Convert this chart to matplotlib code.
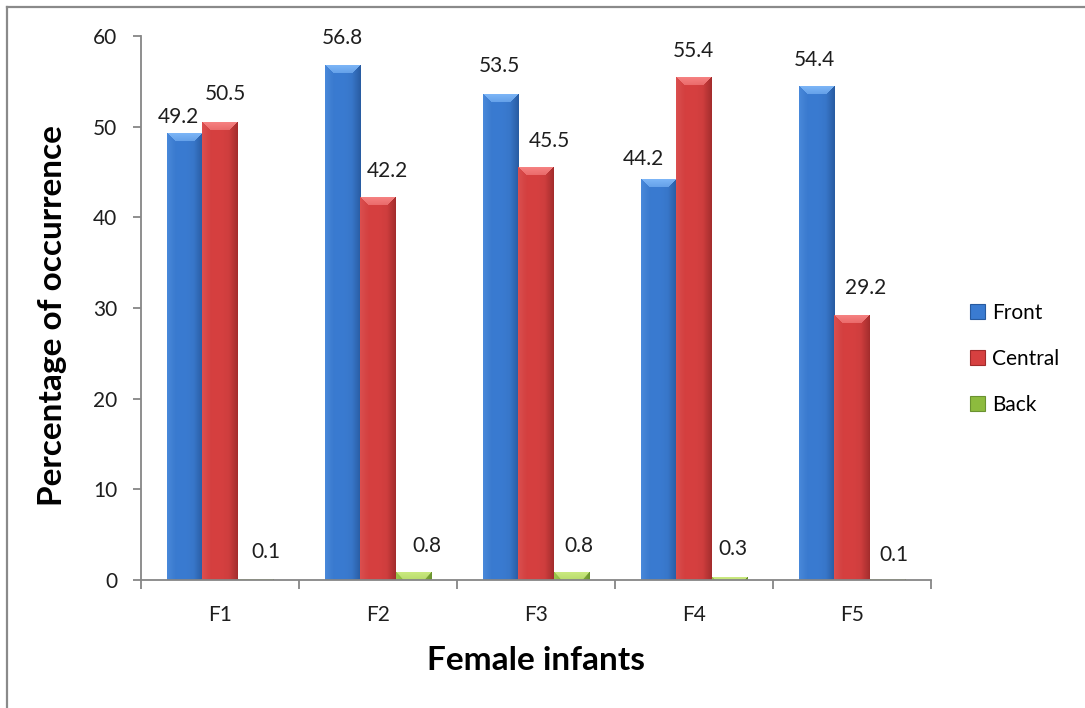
import numpy as np
import matplotlib
matplotlib.use('Agg')
import matplotlib.pyplot as plt
from matplotlib.patches import Patch
from matplotlib.lines import Line2D
from matplotlib.colors import to_rgb

# ---------------- data ----------------
categories = ['F1', 'F2', 'F3', 'F4', 'F5']
front = [49.2, 56.8, 53.5, 44.2, 54.4]
central = [50.5, 42.2, 45.5, 55.4, 29.2]
back = [0.1, 0.8, 0.8, 0.3, 0.1]
series_names = ['Front', 'Central', 'Back']
y_ticks = [0, 10, 20, 30, 40, 50, 60]
x_title = 'Female infants'
y_title = 'Percentage of occurrence'

# ---------------- style ----------------
plt.rcParams['font.family'] = ['Lato', 'DejaVu Sans']
W, H = 1085, 708
fig = plt.figure(figsize=(W / 100, H / 100), dpi=100)
ax = fig.add_axes([141 / W, 1 - 580 / H, 790 / W, 544 / H])

palettes = [
    # base, top facet, left facet, right facet
    ('#3A7BD1', '#7DB6F7', '#4A8ADC', '#275A9F'),
    ('#D64040', '#F68282', '#DC5050', '#A02B2B'),
    ('#8DBB3E', '#CBEA80', '#9CC84E', '#6A9230'),
]
# label offsets in pixels (dx, dy) relative to bar top centre
label_dx = [[-6.5, -0.5, -1.5, -15, -2],
            [5.5, 9, 13, -1, 14],
            [10.5, 13, 7, 3.5, 6.5]]
label_dy = [[17, 27, 29, 20, 27],
            [28, 26, 26, 27, 27],
            [27, 27, 27, 28, 24]]

series = [front, central, back]
x = np.arange(len(categories))
bw = 0.2247
offsets = [-bw, 0, bw]

ax.set_xlim(-0.5, len(categories) - 0.5)
ax.set_ylim(0, 60)

def bevel_image(wpx, hpx, pal, bt=8.0, bs=9.0):
    base, top, left, right = [np.array(to_rgb(c)) for c in pal]
    wpx = max(int(round(wpx)), 1)
    hpx = max(int(round(hpx)), 1)
    rows = np.arange(hpx)[:, None] + 0.5
    cols = np.arange(wpx)[None, :] + 0.5
    dt = np.broadcast_to(rows / bt, (hpx, wpx))
    dl = np.broadcast_to(cols / bs, (hpx, wpx))
    dr = np.broadcast_to((wpx - cols) / bs, (hpx, wpx))
    img = np.empty((hpx, wpx, 3))
    t = np.broadcast_to(cols / wpx, (hpx, wpx))
    shade = 1.0 - 0.08 * ((t - 0.4) * 2) ** 2
    img[:] = base[None, None, :] * shade[:, :, None]
    stack = np.stack([dt, dl, dr])
    m = stack.min(axis=0)
    arg = stack.argmin(axis=0)
    inb = m < 1
    # top facet: light, slight gradient towards base
    k = (inb & (arg == 0))
    f = np.clip(dt, 0, 1)[..., None] * 0.35
    topcol = top[None, None, :] * (1 - f) + img * f
    img = np.where(k[..., None], topcol, img)
    # left facet: gradient edge->base
    k = (inb & (arg == 1))
    f = np.clip(dl, 0, 1)[..., None]
    lcol = left[None, None, :] * (1 - f) + img * f
    img = np.where(k[..., None], lcol, img)
    # right facet: darker near edge
    k = (inb & (arg == 2))
    f = np.clip(dr, 0, 1)[..., None] ** 0.7
    rcol = right[None, None, :] * (1 - f) + img * f
    img = np.where(k[..., None], rcol, img)
    return np.clip(img, 0, 1)

legend_handles = []
for si, (vals, pal) in enumerate(zip(series, palettes)):
    bars = ax.bar(x + offsets[si], vals, width=bw, color=pal[0], zorder=2,
                  linewidth=0)
    for bi, rect in enumerate(bars):
        x0, y0 = rect.get_x(), rect.get_y()
        x1, y1 = x0 + rect.get_width(), y0 + rect.get_height()
        p0 = ax.transData.transform((x0, y0))
        p1 = ax.transData.transform((x1, y1))
        img = bevel_image(p1[0] - p0[0], p1[1] - p0[1], pal)
        ax.imshow(img, extent=(x0, x1, y0, y1), origin='upper', aspect='auto',
                  zorder=3, interpolation='bilinear')
        ax.annotate(f'{vals[bi]:.1f}', xy=(x0 + rect.get_width() / 2, y1),
                    xytext=(label_dx[si][bi], label_dy[si][bi]),
                    textcoords='offset pixels', ha='center', va='center',
                    fontsize=15, color='#1e1e1e', zorder=5)
    legend_handles.append(Patch(facecolor=pal[0], edgecolor=pal[3],
                                linewidth=0.8, label=series_names[si]))

ax.set_xlim(-0.5, len(categories) - 0.5)
ax.set_ylim(0, 60)

# axes styling
for s in ['top', 'right']:
    ax.spines[s].set_visible(False)
for s in ['left', 'bottom']:
    ax.spines[s].set_color('#868686')
    ax.spines[s].set_linewidth(1.3)
    ax.spines[s].set_zorder(6)

ax.set_yticks(y_ticks)
ax.set_yticklabels([str(v) for v in y_ticks])
ax.tick_params(axis='y', length=6, width=1.3, color='#868686', pad=11,
               labelsize=15, labelcolor='#1e1e1e')

ax.set_xticks(np.arange(-0.5, len(categories) + 0.5, 1.0))
ax.set_xticklabels([])
ax.tick_params(axis='x', which='major', length=6.5, width=1.3,
               color='#868686')
ax.set_xticks(x, minor=True)
ax.set_xticklabels(categories, minor=True)
ax.tick_params(axis='x', which='minor', length=0, pad=18, labelsize=15,
               labelcolor='#1e1e1e')

# axis titles
fig.text((141 + 931) / 2 / W, 1 - 660 / H, x_title, ha='center', va='center',
         fontsize=24, fontweight='bold', color='black')
fig.text(53 / W, 1 - 316 / H, y_title, ha='center', va='center',
         rotation=90, fontsize=24, fontweight='bold', color='black')

# legend
fig.legend(handles=legend_handles, loc='center left',
           bbox_to_anchor=(970 / W, 1 - 359 / H), frameon=False,
           fontsize=15, handlelength=0.72, handleheight=0.72,
           handletextpad=0.35, labelspacing=1.25, borderpad=0,
           borderaxespad=0)

# chart frame (top and left edges visible)
fig.add_artist(Line2D([7 / W, 1], [1 - 6.5 / H, 1 - 6.5 / H],
                      transform=fig.transFigure, color='#8a8a8a', lw=1.6))
fig.add_artist(Line2D([7 / W, 7 / W], [0, 1 - 6.5 / H],
                      transform=fig.transFigure, color='#8a8a8a', lw=1.6))

fig.savefig('out.png', dpi=100)
